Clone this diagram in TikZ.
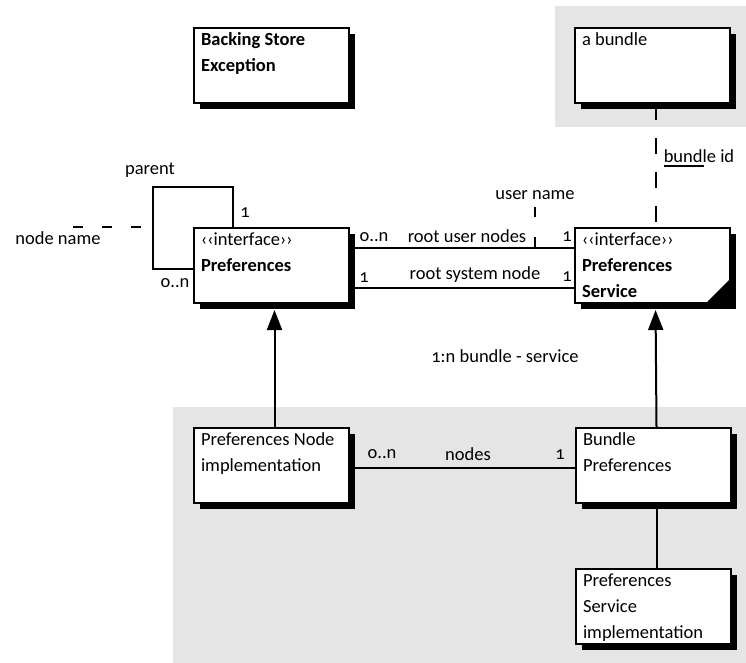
\documentclass[tikz,border=0pt]{standalone}
\usepackage{fontspec}
\setmainfont{Carlito}[Numbers=OldStyle]
\usetikzlibrary{arrows.meta,shadows,positioning}
\tikzset{
  umlbox/.style={draw,line width=2pt,fill=white,anchor=north west,
    inner xsep=7pt,inner ysep=5pt,minimum width=155pt,minimum height=75pt,
    drop shadow={shadow xshift=6pt,shadow yshift=-6pt,fill=black,opacity=1}},
  assoc/.style={line width=2pt},
  qual/.style={line width=2pt,dash pattern=on 16pt off 18pt},
  genarrow/.style={line width=2pt,-{Triangle[width=15pt,length=20pt]},shorten >=6pt},
  lbl/.style={inner sep=0pt}
}
\newcommand{\boxtext}[1]{\parbox[t][65pt][t]{141pt}{\raggedright #1}}

\begin{document}
\begin{tikzpicture}[x=1pt,y=-1pt,>=Latex,
    every node/.style={font=\fontsize{18.5}{26}\selectfont}]
  \useasboundingbox (0,0) rectangle (746,663);
  %
  % Bundle areas
  \fill[black!10] (555,6) rectangle (746,127);
  \fill[black!10] (173,407) rectangle (746,663);
  %
  % Classes
  \node[umlbox] (exc) at (193,27) {\boxtext{\bfseries Backing Store\\Exception}};
  \node[umlbox] (bundle) at (574,27) {\boxtext{a bundle}};
  \node[umlbox] (prefs) at (193,227) {\boxtext{‹‹interface››\\{\bfseries Preferences}}};
  \node[umlbox] (service) at (574,227) {\boxtext{‹‹interface››\\{\bfseries Preferences\\Service}}};
  \node[umlbox] (nodeimpl) at (193,427) {\boxtext{Preferences Node\\implementation}};
  \node[umlbox] (bundleprefs) at (575,427) {\boxtext{Bundle\\Preferences}};
  \node[umlbox] (serviceimpl) at (575,568) {\boxtext{Preferences\\Service\\implementation}};
  \fill (service.south east) -- ++(-26,0) -- ++(26,-26) -- cycle;
  %
  % Parent loop
  \coordinate (loopcorner) at (153,187);
  \draw[assoc] ([xshift=40pt]prefs.north west) |- (loopcorner)
    |- ([yshift=-3pt]prefs.west);
  \node[lbl] (parentlbl) at (150,170) {parent};
  \node[lbl] (selfone) at (245,213) {1};
  \node[lbl] (selfmany) at (175,283) {o..n};
  \node[lbl] (nodename) at (58,238) {node name};
  \coordinate (nnend) at (73,227);
  \draw[line width=2pt,dash pattern=on 10pt off 19pt] (nnend) -- (loopcorner |- nnend);
  %
  % Root nodes
  \draw[assoc] ([yshift=17.5pt]prefs.east) -- ([yshift=17.5pt]service.west);
  \draw[assoc] ([yshift=-22.5pt]prefs.east) -- ([yshift=-22.5pt]service.west);
  \node[lbl] (usermany) at (374,237) {o..n};
  \node[lbl] (userlbl) at (467,236) {root user nodes};
  \node[lbl] (userone) at (567,237) {1};
  \node[lbl] (sysone) at (364,278) {1};
  \node[lbl] (syslbl) at (475,275) {root system node};
  \node[lbl] (sysone2) at (567,277) {1};
  \node[lbl] (username) at (535,195) {user name};
  \coordinate (unend) at (535,250);
  \draw[line width=2pt,dash pattern=on 10pt off 20pt] ([yshift=-7pt]username.south) -- (unend);
  %
  % Bundle id
  \draw[qual] ([xshift=3pt]bundle.south) -- ([xshift=3pt]service.north);
  \node[lbl] (bundleid) at (699,156) {bundle id};
  \draw[assoc] ([yshift=-3pt]bundleid.south west) -- ++(40,0);
  %
  % Inheritance
  \draw[genarrow] ([xshift=3pt]nodeimpl.north) -- ([xshift=3pt]prefs.south);
  \draw[genarrow] ([xshift=3pt]bundleprefs.north) -- ([xshift=3pt]service.south);
  \node[lbl] (bslbl) at (505,356) {1:n bundle - service};
  %
  % Implementation side
  \draw[assoc] ([yshift=-2.5pt]nodeimpl.east) -- ([yshift=-2.5pt]bundleprefs.west);
  \node[lbl] (nodesmany) at (382,454) {o..n};
  \node[lbl] (nodeslbl) at (468,454) {nodes};
  \node[lbl] (nodesone) at (560,455) {1};
  \draw[assoc] ([xshift=3pt]bundleprefs.south) -- ([xshift=3pt]serviceimpl.north);
  %
\end{tikzpicture}
\end{document}
